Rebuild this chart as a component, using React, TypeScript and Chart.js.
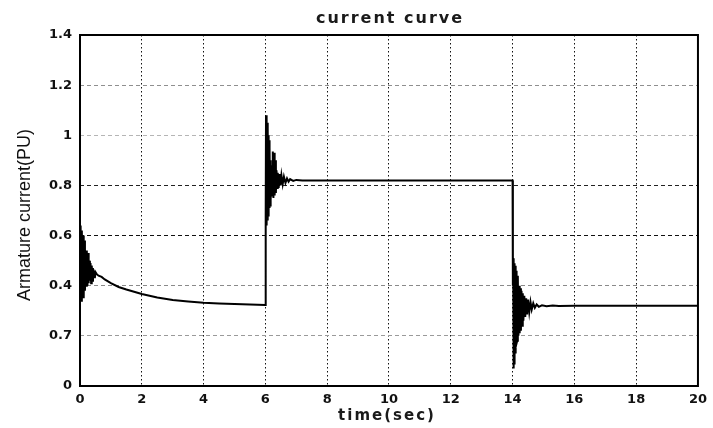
import React, { useEffect, useRef } from "react";
import { Chart, registerables } from "chart.js";

Chart.register(...registerables);

const titleText = "current curve";
const xAxisTitle = "time(sec)";
const yAxisTitle = "Armature current(PU)";

const xTicks = [0, 2, 4, 6, 8, 10, 12, 14, 16, 18, 20];
const yTickLabels = ["0", "0.7", "0.4", "0.6", "0.8", "1", "1.2", "1.4"];

// time (s)
const timeStart = [0, 0.02, 0.04, 0.06, 0.08, 0.1, 0.12, 0.14, 0.16, 0.18, 0.2, 0.22, 0.24, 0.26, 0.28, 0.3, 0.32, 0.34, 0.36, 0.38, 0.4, 0.42, 0.44, 0.46, 0.48, 0.5, 0.55, 0.6, 0.7, 0.8, 1.0, 1.25, 1.5, 2, 2.5, 3, 3.5, 4, 4.5, 5, 5.5, 6.0];
const currentStart = [0.45, 0.64, 0.34, 0.62, 0.36, 0.6, 0.35, 0.58, 0.38, 0.48, 0.4, 0.54, 0.4, 0.53, 0.41, 0.5, 0.42, 0.49, 0.41, 0.48, 0.42, 0.47, 0.43, 0.46, 0.43, 0.455, 0.445, 0.44, 0.435, 0.425, 0.41, 0.395, 0.385, 0.367, 0.353, 0.343, 0.337, 0.332, 0.329, 0.327, 0.325, 0.323];

const timeStep1 = [6.01, 6.02, 6.03, 6.04, 6.05, 6.06, 6.07, 6.08, 6.09, 6.1, 6.11, 6.12, 6.13, 6.14, 6.15, 6.16, 6.18, 6.2, 6.22, 6.24, 6.26, 6.28, 6.3, 6.32, 6.34, 6.36, 6.38, 6.4, 6.43, 6.46, 6.49, 6.52, 6.56, 6.6, 6.65, 6.7, 6.75, 6.8, 6.9, 7.0, 7.2, 14.0];
const currentStep1 = [0.68, 1.08, 0.64, 1.07, 0.65, 1.05, 0.66, 1.03, 0.68, 1.0, 0.7, 0.98, 0.71, 0.95, 0.72, 0.9, 0.74, 0.88, 0.76, 0.935, 0.75, 0.93, 0.76, 0.9, 0.77, 0.86, 0.79, 0.85, 0.79, 0.845, 0.8, 0.84, 0.805, 0.835, 0.81, 0.828, 0.815, 0.825, 0.818, 0.822, 0.82, 0.82];

const timeStep2 = [14.01, 14.02, 14.03, 14.04, 14.05, 14.06, 14.07, 14.08, 14.09, 14.1, 14.11, 14.12, 14.13, 14.15, 14.17, 14.19, 14.21, 14.23, 14.25, 14.27, 14.29, 14.31, 14.33, 14.35, 14.38, 14.41, 14.44, 14.47, 14.5, 14.54, 14.58, 14.62, 14.67, 14.72, 14.78, 14.85, 14.95, 15.1, 15.3, 15.5, 16, 20];
const currentStep2 = [0.4, 0.51, 0.07, 0.5, 0.09, 0.49, 0.11, 0.48, 0.13, 0.47, 0.15, 0.46, 0.17, 0.18, 0.44, 0.2, 0.4, 0.21, 0.39, 0.22, 0.38, 0.24, 0.37, 0.26, 0.36, 0.275, 0.35, 0.285, 0.345, 0.295, 0.335, 0.305, 0.33, 0.312, 0.325, 0.316, 0.322, 0.318, 0.321, 0.319, 0.32, 0.32];

const times = [...timeStart, ...timeStep1, ...timeStep2];
const currents = [...currentStart, ...currentStep1, ...currentStep2];

const hGridColors: Record<string, string> = {
  "0.2": "#9a9a9a",
  "0.4": "#8a8a8a",
  "0.6": "#111111",
  "0.8": "#222222",
  "1": "#b5b5b5",
  "1.2": "#8f8f8f",
};

const framePlugin = {
  id: "frameAndTitles",
  afterDraw(chart: any) {
    const { ctx, chartArea } = chart;
    const { left, right, top, bottom } = chartArea;
    ctx.save();
    ctx.strokeStyle = "#000";
    ctx.lineWidth = 2;
    ctx.setLineDash([]);
    ctx.strokeRect(left, top, right - left, bottom - top);

    ctx.fillStyle = "#1a1a1a";
    ctx.textAlign = "center";
    ctx.textBaseline = "middle";
    (ctx as any).letterSpacing = "2px";
    ctx.font = "bold 16px 'DejaVu Sans'";
    ctx.fillText(titleText, (left + right) / 2 + 1, 19);
    ctx.font = "bold 15px 'DejaVu Sans'";
    ctx.fillText(xAxisTitle, (left + right) / 2 - 2, 416);

    (ctx as any).letterSpacing = "0px";
    ctx.translate(25, 215);
    ctx.rotate(-Math.PI / 2);
    ctx.font = "18px 'Liberation Sans'";
    ctx.fillStyle = "#111";
    ctx.fillText(yAxisTitle, 0, 0);
    ctx.restore();
  },
};

export default function App() {
  const canvasRef = useRef<HTMLCanvasElement | null>(null);

  useEffect(() => {
    if (!canvasRef.current) return;
    const chart = new Chart(canvasRef.current, {
      type: "line",
      data: {
        datasets: [
          {
            data: times.map((t, i) => ({ x: t, y: currents[i] })),
            borderColor: "#000",
            borderWidth: 2,
            pointRadius: 0,
            tension: 0,
            fill: false,
          },
        ],
      },
      options: {
        responsive: false,
        animation: false,
        devicePixelRatio: 1,
        layout: { padding: { top: 35, right: 11, left: 0, bottom: 0 } },
        plugins: {
          legend: { display: false },
          tooltip: { enabled: false },
          title: { display: false },
        },
        scales: {
          x: {
            type: "linear",
            min: 0,
            max: 20,
            afterBuildTicks: (scale: any) => {
              scale.ticks = xTicks.map((v) => ({ value: v }));
            },
            afterFit: (scale: any) => {
              scale.height = 42;
            },
            ticks: {
              padding: 6,
              color: "#111",
              font: { family: "DejaVu Sans", weight: "bold", size: 13 },
              maxRotation: 0,
              autoSkip: false,
            },
            grid: {
              drawTicks: false,
              color: "#111",
              lineWidth: 1,
            },
            border: { display: false, dash: [1.5, 2.5] },
          },
          y: {
            type: "linear",
            min: 0,
            max: 1.4,
            afterBuildTicks: (scale: any) => {
              scale.ticks = yTickLabels.map((_, i) => ({ value: i * 0.2 }));
            },
            afterFit: (scale: any) => {
              scale.width = 80;
            },
            ticks: {
              padding: 8,
              color: "#111",
              font: { family: "DejaVu Sans", weight: "bold", size: 13 },
              autoSkip: false,
              callback: (value: any) => yTickLabels[Math.round(Number(value) / 0.2)],
            },
            grid: {
              drawTicks: false,
              lineWidth: 1,
              color: (ctx: any) => {
                const v = ctx.tick ? String(Math.round(ctx.tick.value * 10) / 10) : "";
                return hGridColors[v] || "#555";
              },
            },
            border: { display: false, dash: [4, 3] },
          },
        },
      },
      plugins: [framePlugin],
    });
    return () => chart.destroy();
  }, []);

  return (
    <div style={{ position: "absolute", left: 0, top: 0, width: 713, height: 428, background: "#fff" }}>
      <canvas ref={canvasRef} width={713} height={428} style={{ display: "block" }} />
    </div>
  );
}
